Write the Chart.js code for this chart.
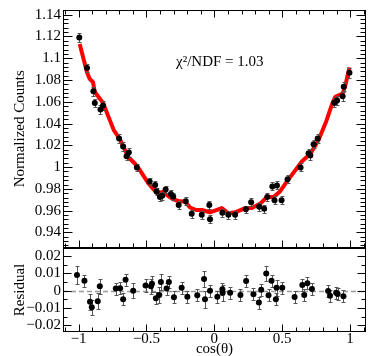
<!DOCTYPE html>
<html>
<head>
<meta charset="utf-8">
<script src="https://cdn.jsdelivr.net/npm/chart.js@4.4.1/dist/chart.umd.min.js"></script>
<style>
  body { margin: 0; background: #fff; }
  #wrap { position: relative; width: 374px; height: 356px; }
  canvas { position: absolute; left: 0; top: 0; }
</style>
</head>
<body>
<div id="wrap">
  <canvas id="topChart" width="374" height="356"></canvas>
  <canvas id="resChart" width="374" height="356"></canvas>
</div>
<script>
// data points, upper panel
var topX = [-0.995,-0.938,-0.891,-0.881,-0.839,-0.820,-0.702,-0.672,-0.647,-0.630,-0.571,-0.477,-0.436,-0.425,-0.401,-0.384,
  -0.359,-0.320,-0.303,-0.263,-0.211,-0.167,-0.093,-0.037,-0.032,0.059,0.103,0.153,0.232,0.271,0.330,0.367,
  0.390,0.427,0.443,0.461,0.495,0.539,0.635,0.694,0.707,0.731,0.761,0.884,0.904,0.945,0.953,0.995];
var topY = [1.119,1.091,1.0696,1.0588,1.053,1.0565,1.0264,1.019,1.010,1.0134,0.9997,0.9868,0.9836,0.9776,0.9725,0.9737,
  0.9794,0.9752,0.9731,0.9653,0.9686,0.9571,0.9562,0.9651,0.9522,0.958,0.9562,0.9562,0.9612,0.9678,0.9636,0.9618,
  0.9725,0.9823,0.9695,0.9832,0.9695,0.9889,0.9997,1.0128,1.0107,1.0211,1.0264,1.0592,1.0613,1.0652,1.0738,1.0866];
var topErr = [0.0045,0.004,0.004,0.004,0.004,0.004,0.0038,0.0038,0.0038,0.0038,0.0036,0.0036,0.0036,0.0036,0.0036,0.0036,
  0.0036,0.0035,0.0035,0.0035,0.0035,0.0035,0.0035,0.0035,0.0035,0.0035,0.0035,0.0035,0.0035,0.0035,0.0035,0.0035,
  0.0036,0.0036,0.0036,0.0036,0.0036,0.0036,0.0037,0.0038,0.0038,0.0038,0.0038,0.004,0.004,0.004,0.004,0.0045];

// fitted curve (red band)
var fitX = [-0.992,-0.938,-0.918,-0.894,-0.881,-0.820,-0.741,-0.696,-0.635,-0.586,-0.549,-0.487,-0.425,-0.377,-0.340,-0.303,
  -0.266,-0.216,-0.179,-0.135,-0.093,-0.032,0.055,0.103,0.153,0.227,0.276,0.338,0.387,0.436,0.485,0.535,
  0.646,0.707,0.766,0.825,0.869,0.891,0.945,0.965,0.995];
var fitY = [1.113,1.087,1.081,1.078,1.069,1.059,1.034,1.0257,1.0093,1.0033,0.9973,0.9853,0.9763,0.9772,0.9734,0.9704,
  0.9689,0.9683,0.9629,0.9606,0.9606,0.9585,0.9624,0.9576,0.9585,0.9624,0.9624,0.9665,0.9725,0.9725,0.9779,0.9869,
  1.0054,1.0122,1.0245,1.0424,1.0586,1.0646,1.0676,1.0751,1.0916];

// residuals, lower panel
var resX = [-1.012,-0.957,-0.916,-0.903,-0.859,-0.844,-0.726,-0.694,-0.672,-0.654,-0.598,-0.507,-0.467,-0.460,-0.431,-0.406,
  -0.394,-0.352,-0.335,-0.298,-0.241,-0.199,-0.126,-0.076,-0.069,-0.032,0.022,0.059,0.061,0.116,0.192,0.234,
  0.288,0.328,0.345,0.382,0.399,0.421,0.453,0.458,0.500,0.591,0.648,0.662,0.685,0.719,0.838,0.852,0.897,0.908,0.951];
var resY = [0.0091,0.0058,-0.0064,-0.0096,-0.0061,0.0025,0.0012,0.0014,-0.005,0.0064,0.0,0.003,0.0025,0.004,-0.0044,-0.0025,
  0.005,0.0012,0.005,-0.0038,0.0017,-0.0035,-0.0027,0.0068,-0.005,0.0,-0.0035,0.0008,-0.0012,-0.0012,-0.0025,0.0056,
  -0.0021,-0.0069,0.0006,0.010,-0.0027,0.0058,-0.005,0.0017,0.0017,-0.0036,0.0033,-0.0025,0.0043,0.001,-0.0002,-0.0029,-0.0012,-0.0019,-0.0032];
var resErr = [0.0052,0.0035,0.0045,0.0045,0.0045,0.0045,0.0035,0.0035,0.0035,0.0035,0.0045,0.0035,0.0045,0.0045,0.0035,0.0045,
  0.0045,0.0035,0.0035,0.0035,0.0035,0.0035,0.0035,0.0045,0.005,0.0035,0.0035,0.0035,0.0045,0.0035,0.0035,0.0035,
  0.0035,0.0035,0.0035,0.0045,0.0035,0.0035,0.0035,0.0045,0.0035,0.0035,0.0035,0.0035,0.0035,0.0035,0.0035,0.0035,0.0035,0.0035,0.0035];

// axis ticks
var xTicks = [-1, -0.5, 0, 0.5, 1];
var topYTicks = [0.94, 0.96, 0.98, 1, 1.02, 1.04, 1.06, 1.08, 1.1, 1.12, 1.14];
var resYTicks = [-0.02, -0.01, 0, 0.01, 0.02];

var FONT = { family: 'Liberation Serif', size: 15, lineHeight: 1 };

function fmt(v) {
  return String(+v.toFixed(3)).replace('-', '\u2212');
}

// ROOT style frame with inward ticks
var rootFrame = {
  id: 'rootFrame',
  afterDraw: function(chart, args, o) {
    var ctx = chart.ctx, a = chart.chartArea, sx = chart.scales.x, sy = chart.scales.y;
    var L = Math.round(a.left) + 0.5, R = Math.round(a.right) - 0.5;
    var T = Math.round(a.top) + 0.5, B = Math.round(a.bottom) - 0.5;
    ctx.save();
    ctx.strokeStyle = '#000';
    ctx.lineWidth = 1;
    ctx.strokeRect(L, T, R - L, B - T);
    ctx.beginPath();
    function marks(scale, majors, step, cb) {
      var k0 = Math.ceil(scale.min / step - 1e-6), k1 = Math.floor(scale.max / step + 1e-6);
      for (var k = k0; k <= k1; k++) {
        var v = k * step;
        var isMajor = majors.some(function(m) { return Math.abs(m - v) < step / 10; });
        cb(Math.round(scale.getPixelForValue(v)) + 0.5, isMajor);
      }
    }
    marks(sx, o.xMajor, o.xStep, function(p, big) {
      var len = big ? o.xLen[0] : o.xLen[1];
      if (o.xSides.indexOf('top') >= 0) { ctx.moveTo(p, T); ctx.lineTo(p, T + len); }
      if (o.xSides.indexOf('bottom') >= 0) { ctx.moveTo(p, B); ctx.lineTo(p, B - len); }
    });
    marks(sy, o.yMajor, o.yStep, function(p, big) {
      var len = big ? o.yLen[0] : o.yLen[1];
      ctx.moveTo(L, p); ctx.lineTo(L + len, p);
      ctx.moveTo(R, p); ctx.lineTo(R - len, p);
    });
    ctx.stroke();
    if (o.label) {
      ctx.fillStyle = '#000';
      ctx.font = '15px "Liberation Serif"';
      ctx.textBaseline = 'middle';
      ctx.fillText(o.label, 176, 62);
    }
    ctx.restore();
  }
};

// error bars and zero line
var errBars = {
  id: 'errBars',
  beforeDatasetsDraw: function(chart, args, o) {
    if (!o.zeroLine) return;
    var ctx = chart.ctx, a = chart.chartArea;
    var py = Math.round(chart.scales.y.getPixelForValue(0)) + 0.5;
    ctx.save();
    ctx.strokeStyle = '#9a9a9a';
    ctx.lineWidth = 1.5;
    ctx.setLineDash([5, 3]);
    ctx.beginPath(); ctx.moveTo(a.left, py); ctx.lineTo(a.right, py); ctx.stroke();
    ctx.restore();
  },
  beforeDatasetDraw: function(chart, args) {
    var ds = chart.data.datasets[args.index];
    if (!ds.errors) return;
    var ctx = chart.ctx, a = chart.chartArea, sx = chart.scales.x, sy = chart.scales.y;
    ctx.save();
    ctx.beginPath(); ctx.rect(a.left, a.top, a.right - a.left, a.bottom - a.top); ctx.clip();
    ctx.strokeStyle = '#555';
    ctx.lineWidth = 1;
    ctx.beginPath();
    ds.data.forEach(function(p, i) {
      var px = Math.round(sx.getPixelForValue(p.x)) + 0.5;
      var y1 = Math.round(sy.getPixelForValue(p.y - ds.errors[i])) + 0.5;
      var y2 = Math.round(sy.getPixelForValue(p.y + ds.errors[i])) + 0.5;
      ctx.moveTo(px, y1); ctx.lineTo(px, y2);
      ctx.moveTo(px - 2, y1); ctx.lineTo(px + 2, y1);
      ctx.moveTo(px - 2, y2); ctx.lineTo(px + 2, y2);
    });
    ctx.stroke();
    ctx.restore();
  }
};

function yAxis(min, max, ticks, title) {
  return {
    min: min, max: max,
    afterFit: function(s) { s.width = 63; },
    afterBuildTicks: function(s) { s.ticks = ticks.map(function(v) { return { value: v }; }); },
    ticks: { padding: 2, color: '#000', font: FONT, autoSkip: false, callback: function(v) { return fmt(v); } },
    grid: { display: false, drawTicks: false },
    border: { display: false },
    title: { display: true, text: title, color: '#000', font: FONT, padding: { top: 13, bottom: 0 } }
  };
}

var common = {
  responsive: false,
  animation: false,
  devicePixelRatio: 1,
  events: []
};

new Chart(document.getElementById('topChart'), {
  type: 'scatter',
  data: {
    datasets: [
      {
        data: topX.map(function(x, i) { return { x: x, y: topY[i] }; }),
        errors: topErr,
        backgroundColor: '#000', borderColor: '#000',
        pointRadius: 3, pointBorderWidth: 0, order: 0
      },
      {
        data: fitX.map(function(x, i) { return { x: x, y: fitY[i] }; }),
        showLine: true, borderColor: '#ff0000', borderWidth: 4,
        borderJoinStyle: 'round', pointRadius: 0, order: 1
      }
    ]
  },
  options: Object.assign({}, common, {
    layout: { padding: { top: 4, right: 8, bottom: 108, left: 0 } },
    scales: {
      x: { type: 'linear', min: -1.115, max: 1.117, display: false },
      y: yAxis(0.9257, 1.1448, topYTicks, 'Normalized Counts')
    },
    plugins: {
      legend: { display: false }, tooltip: { enabled: false },
      rootFrame: { xMajor: xTicks, xStep: 0.1, xLen: [7, 4], xSides: ['top', 'bottom'],
                   yMajor: topYTicks, yStep: 0.004, yLen: [9, 5], label: '\u03c7\u00b2/NDF = 1.03' },
      errBars: {}
    }
  }),
  plugins: [rootFrame, errBars]
});

new Chart(document.getElementById('resChart'), {
  type: 'scatter',
  data: {
    datasets: [
      {
        data: resX.map(function(x, i) { return { x: x, y: resY[i] }; }),
        errors: resErr,
        backgroundColor: '#000', borderColor: '#000',
        pointRadius: 3, pointBorderWidth: 0
      }
    ]
  },
  options: Object.assign({}, common, {
    layout: { padding: { top: 248, right: 8, bottom: 0, left: 0 } },
    scales: {
      x: {
        type: 'linear', min: -1.115, max: 1.117,
        afterFit: function(s) { s.height = 24; },
        afterBuildTicks: function(s) { s.ticks = xTicks.map(function(v) { return { value: v }; }); },
        ticks: { padding: 0, color: '#000', font: FONT, autoSkip: false, maxRotation: 0,
                 callback: function(v) { return fmt(v); } },
        grid: { display: false, drawTicks: false },
        border: { display: false },
        title: { display: true, text: 'cos(\u03b8)', color: '#000', font: FONT, padding: { top: 0, bottom: -1 } }
      },
      y: yAxis(-0.0239, 0.0247, resYTicks, 'Residual')
    },
    plugins: {
      legend: { display: false }, tooltip: { enabled: false },
      rootFrame: { xMajor: xTicks, xStep: 0.1, xLen: [7, 4], xSides: ['bottom'],
                   yMajor: resYTicks, yStep: 0.005, yLen: [8, 4] },
      errBars: { zeroLine: true }
    }
  }),
  plugins: [rootFrame, errBars]
});
</script>
</body>
</html>
